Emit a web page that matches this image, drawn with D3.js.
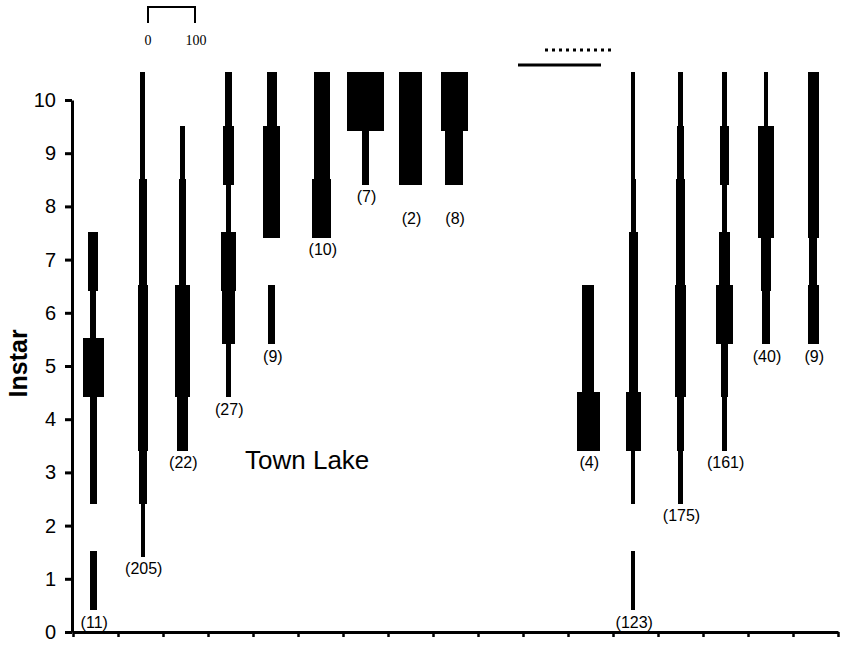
<!DOCTYPE html>
<html>
<head>
<meta charset="utf-8">
<script src="https://cdn.jsdelivr.net/npm/d3@7"></script>
<style>
  body { margin: 0; background: #fff; }
  svg { display: block; }
  text { font-family: Arial, "Liberation Sans", sans-serif; }
</style>
</head>
<body>
<svg id="chart"></svg>
<script>
// instar classes on the y axis
const instars = [1, 2, 3, 4, 5, 6, 7, 8, 9, 10];
const yTicks = [0, 1, 2, 3, 4, 5, 6, 7, 8, 9, 10];
// sample position along the (unlabelled) x axis, in tick intervals
const samplePos = [0.45, 1.55, 2.43, 3.45, 4.42, 5.53, 6.5, 7.5, 8.47, 11.45, 12.45, 13.5, 14.48, 15.4, 16.45];
// number of larvae per sample
const sampleN = [11, 205, 22, 27, 9, 10, 7, 2, 8, 4, 123, 175, 161, 40, 9];
// percent of each sample in instars 1..10 (kite width)
const percent = [
  [15, 0, 15, 15, 45, 12, 21, 0, 0, 0],
  [0, 8.5, 18, 22, 22, 22, 16, 16, 10.6, 10.6],
  [0, 0, 0, 24, 31, 31, 15.5, 15.5, 10, 0],
  [0, 0, 0, 0, 10.6, 28, 32.5, 10.6, 23.4, 14.3],
  [0, 0, 0, 0, 0, 15, 0, 36, 36, 20],
  [0, 0, 0, 0, 0, 0, 0, 40, 33, 33],
  [0, 0, 0, 0, 0, 0, 0, 0, 15, 77],
  [0, 0, 0, 0, 0, 0, 0, 0, 49.6, 47.5],
  [0, 0, 0, 0, 0, 0, 0, 0, 39, 57],
  [0, 0, 0, 48, 25, 25, 0, 0, 0, 0],
  [7.5, 0, 9, 32.5, 20, 20, 20, 10.6, 8.5, 8.5],
  [0, 0, 10, 16, 25.5, 25.5, 20.6, 20.6, 17, 10],
  [0, 0, 0, 10.6, 15.5, 37.7, 25, 11.3, 19, 10.6],
  [0, 0, 0, 0, 0, 15, 21, 32, 36, 10.6],
  [0, 0, 0, 0, 0, 22.7, 17, 22.7, 22.7, 22.7]
];
const siteLabel = "Town Lake";
const scaleLabels = ["0", "100"];

const width = 842, height = 646;
const svg = d3.select("#chart").attr("width", width).attr("height", height);

const x = d3.scaleLinear().domain([0, 17]).range([73, 838]);
const y = d3.scaleLinear().domain([0, 10]).range([632, 100]);
const w = d3.scaleLinear().domain([0, 100]).range([0, 47]);

// kites: each instar is a block, wider blocks drawn on top
const blocks = [];
percent.forEach((row, c) => {
  row.forEach((p, k) => {
    if (p > 0) blocks.push({ c, instar: instars[k], p });
  });
});
blocks.sort((a, b) => a.p - b.p);

svg.append("g")
  .attr("shape-rendering", "crispEdges")
  .selectAll("rect")
  .data(blocks)
  .join("rect")
  .attr("x", d => x(samplePos[d.c]) - w(d.p) / 2)
  .attr("width", d => w(d.p))
  .attr("y", d => y(d.instar + 0.52))
  .attr("height", d => y(d.instar - 0.58) - y(d.instar + 0.52) + 0.5)
  .attr("fill", "#000");

// sample size labels under each kite
const labelNudge = { 7: 22, 8: 22 };
svg.append("g")
  .selectAll("text")
  .data(sampleN)
  .join("text")
  .attr("x", (d, i) => x(samplePos[i]) + 1)
  .attr("y", (d, i) => {
    const low = instars[percent[i].findIndex(p => p > 0)];
    return y(low - 0.58) + 18 + (labelNudge[i] || 0);
  })
  .attr("text-anchor", "middle")
  .attr("font-size", 16)
  .text(d => `(${d})`);

// axes
const yAxis = svg.append("g")
  .attr("transform", `translate(${x(0) - 1},0)`)
  .call(d3.axisLeft(y).tickValues(yTicks).tickSize(7).tickSizeOuter(0).tickPadding(9));
yAxis.select(".domain").attr("stroke-width", 3);
yAxis.selectAll(".tick line").attr("stroke-width", 3);
yAxis.selectAll(".tick text").attr("font-size", 20).attr("font-family", "Arial, 'Liberation Sans', sans-serif");

const xAxis = svg.append("g")
  .attr("transform", `translate(0,${y(0)})`)
  .call(d3.axisBottom(x).ticks(17).tickSize(5).tickSizeOuter(0).tickFormat(""));
xAxis.select(".domain").attr("stroke-width", 3);
xAxis.selectAll(".tick line").attr("stroke-width", 2.5);

svg.append("text")
  .attr("transform", `translate(27,${y(5.05)}) rotate(-90)`)
  .attr("text-anchor", "middle")
  .attr("font-size", 25)
  .attr("font-weight", "bold")
  .text("Instar");

svg.append("text")
  .attr("x", 245)
  .attr("y", 469)
  .attr("font-size", 26)
  .text(siteLabel);

// width scale bar
const bar = svg.append("g").attr("transform", "translate(148,7)");
bar.append("path")
  .attr("d", `M0,16V0H${w(100)}V16`)
  .attr("fill", "none")
  .attr("stroke", "#000")
  .attr("stroke-width", 2);
bar.selectAll("text")
  .data(scaleLabels)
  .join("text")
  .attr("x", (d, i) => i ? w(100) + 1 : 0)
  .attr("y", 38)
  .attr("text-anchor", "middle")
  .attr("font-size", 14)
  .style("font-family", "'Liberation Serif', 'DejaVu Serif', serif")
  .text(d => d);

// period markers above the gap
svg.append("line")
  .attr("x1", 545).attr("x2", 615).attr("y1", 50).attr("y2", 50)
  .attr("stroke", "#000").attr("stroke-width", 3).attr("stroke-dasharray", "3,4");
svg.append("line")
  .attr("x1", 518).attr("x2", 601).attr("y1", 65).attr("y2", 65)
  .attr("stroke", "#000").attr("stroke-width", 3);
</script>
</body>
</html>
